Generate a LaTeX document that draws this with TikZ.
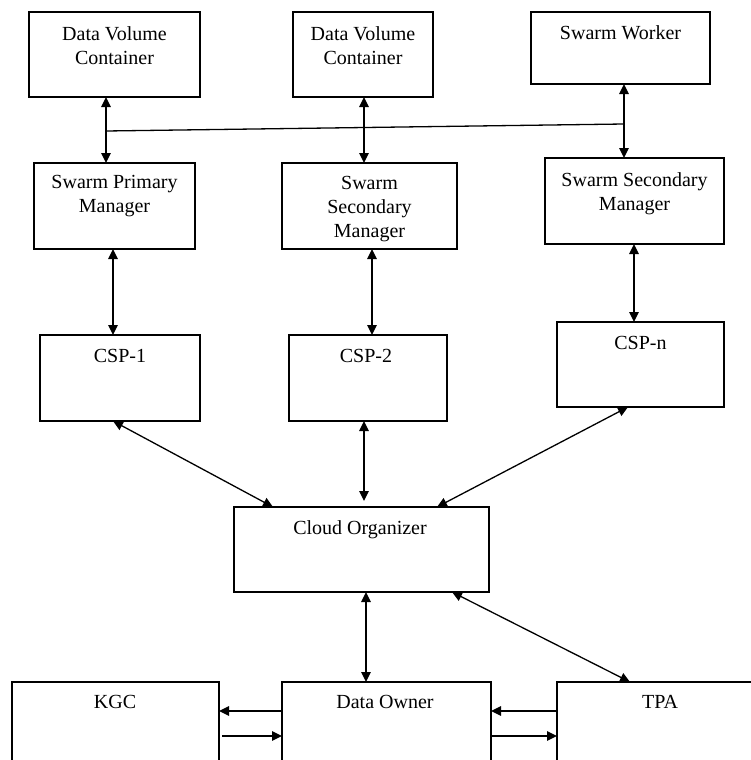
\documentclass[tikz,border=0pt]{standalone}
\usepackage{fontspec}
\setmainfont{Liberation Serif}
\usetikzlibrary{arrows.meta,calc}
\begin{document}
\begin{tikzpicture}[x=1pt,y=-1pt,
 box/.style={draw, line width=1.3pt, inner sep=0pt, outer sep=0pt},
 lbl/.style={anchor=north, inner sep=0pt, align=center, font=\fontsize{20}{24}\selectfont},
 arr/.style={line width=1.3pt, {Triangle[length=10pt,width=9.5pt]}-{Triangle[length=10pt,width=9.5pt]}},
 one/.style={line width=1.3pt, -{Triangle[length=10pt,width=9.5pt]}},
 plain/.style={line width=1.3pt}]
\clip (0,0) rectangle (751,760);
% boxes
\node[box, minimum width=171pt, minimum height=85pt] (dvc1) at (114.5,54.5) {};
\node[box, minimum width=140pt, minimum height=85pt] (dvc2) at (363,54.5) {};
\node[box, minimum width=179pt, minimum height=72pt] (sw) at (620.5,48) {};
\node[box, minimum width=161pt, minimum height=86pt] (spm) at (114.5,206) {};
\node[box, minimum width=175pt, minimum height=86pt] (ssm1) at (369.5,206) {};
\node[box, minimum width=179pt, minimum height=86pt] (ssm2) at (634.5,201) {};
\node[box, minimum width=160pt, minimum height=86pt] (csp1) at (120,378) {};
\node[box, minimum width=158pt, minimum height=86pt] (csp2) at (368,378) {};
\node[box, minimum width=167pt, minimum height=85pt] (cspn) at (640.5,364.5) {};
\node[box, minimum width=255pt, minimum height=85pt] (co) at (361.5,549.5) {};
\node[box, minimum width=207pt, minimum height=93pt] (kgc) at (115.5,728.5) {};
\node[box, minimum width=209pt, minimum height=93pt] (do) at (386.5,728.5) {};
\node[box, minimum width=206pt, minimum height=93pt] (tpa) at (660,728.5) {};
% labels
\node[lbl] (dvc1t) at (114.5,26) {Data Volume\\Container};
\node[lbl] (dvc2t) at (363,26) {Data Volume\\Container};
\node[lbl] (swt) at (620.5,25) {Swarm Worker};
\node[lbl] (spmt) at (114.5,175) {Swarm Primary\\Manager};
\node[lbl] (ssm1t) at (369.5,176) {Swarm\\Secondary\\Manager};
\node[lbl] (ssm2t) at (634.5,172) {Swarm Secondary\\Manager};
\node[lbl] (csp1t) at (120,349) {CSP-1};
\node[lbl] (csp2t) at (366,349) {CSP-2};
\node[lbl] (cspnt) at (640.5,336) {CSP-n};
\node[lbl] (cot) at (360,520) {Cloud Organizer};
\node[lbl] (kgct) at (115,695) {KGC};
\node[lbl] (dot) at (385,695) {Data Owner};
\node[lbl] (tpat) at (660,695) {TPA};
% top connectors
\draw[arr] ([xshift=77pt]dvc1.south west) -- ([xshift=72pt]spm.north west);
\draw[arr] ([xshift=71pt]dvc2.south west) -- ([xshift=82pt]ssm1.north west);
\draw[arr] ([xshift=93pt]sw.south west) -- ([xshift=79pt]ssm2.north west);
\coordinate (hA) at (106,131);
\coordinate (hB) at (624,124);
\draw[plain] (hA) -- (hB);
% managers to CSPs
\draw[arr] ([xshift=79pt]spm.south west) -- ([xshift=73pt]csp1.north west);
\draw[arr] ([xshift=90pt]ssm1.south west) -- ([xshift=83pt]csp2.north west);
\draw[arr] ([xshift=89pt]ssm2.south west) -- ([xshift=77pt]cspn.north west);
% CSPs to cloud organizer
\draw[arr] ([xshift=73pt]csp1.south west) -- ([xshift=39pt]co.north west);
\draw[arr] ([xshift=75pt]csp2.south west) -- ([xshift=130pt,yshift=6pt]co.north west);
\draw[arr] ([xshift=71pt]cspn.south west) -- ([xshift=203pt]co.north west);
% cloud organizer to bottom
\draw[arr] ([xshift=132pt]co.south west) -- ([xshift=84pt]do.north west);
\draw[arr] ([xshift=218pt]co.south west) -- ([xshift=73pt]tpa.north west);
% bottom horizontal
\draw[one] ([yshift=-29pt]do.north west) -- ([yshift=-29pt]kgc.north east);
\draw[one] ([xshift=3pt,yshift=-54pt]kgc.north east) -- ([yshift=-54pt]do.north west);
\draw[one] ([yshift=-29pt]tpa.north west) -- ([yshift=-29pt]do.north east);
\draw[one] ([yshift=-54pt]do.north east) -- ([yshift=-54pt]tpa.north west);
\end{tikzpicture}
\end{document}
